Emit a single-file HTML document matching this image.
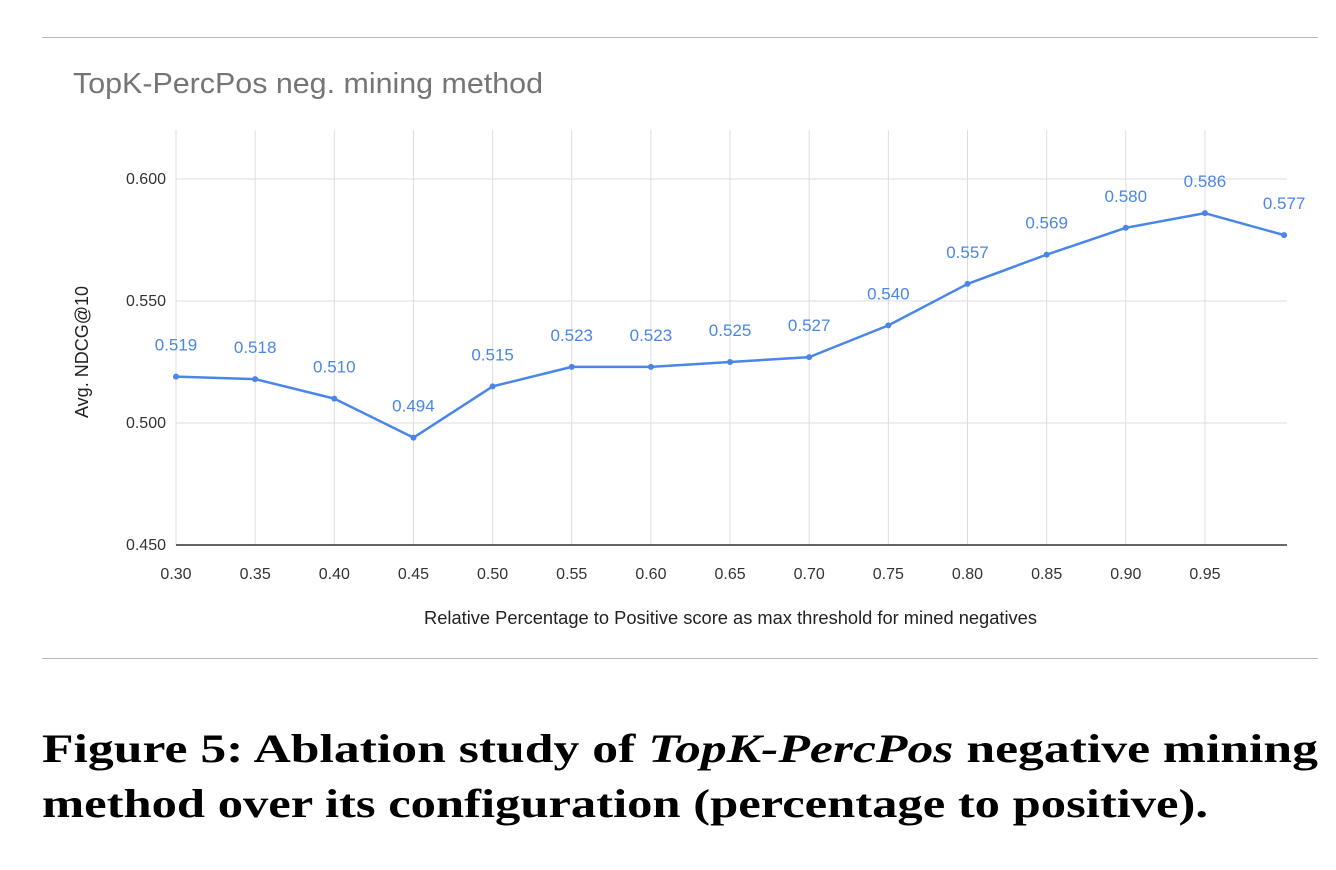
<!DOCTYPE html>
<html><head><meta charset="utf-8">
<style>
body{margin:0;background:#fff;width:1336px;height:870px;overflow:hidden;}
svg{position:absolute;left:0;top:0;}
</style></head><body>
<svg width="1336" height="870">
<line x1="42" y1="37.5" x2="1318" y2="37.5" stroke="#bbb" stroke-width="1"/>
<line x1="42" y1="658.5" x2="1318" y2="658.5" stroke="#bbb" stroke-width="1"/>
<text x="73" y="93" font-family="Liberation Sans, sans-serif" font-size="29" textLength="470" lengthAdjust="spacingAndGlyphs" fill="#757575">TopK-PercPos neg. mining method</text>
<g id="grid"></g>
<g id="marks"></g>
<text x="424" y="624" font-family="Liberation Sans, sans-serif" font-size="18" textLength="613" lengthAdjust="spacingAndGlyphs" fill="#222">Relative Percentage to Positive score as max threshold for mined negatives</text>
<text transform="translate(88,352) rotate(-90)" text-anchor="middle" font-family="Liberation Sans, sans-serif" font-size="18" fill="#222">Avg. NDCG@10</text>
<g font-family="Liberation Serif, serif" font-weight="bold" font-size="40" fill="#000">
<text x="42" y="762" textLength="1276" lengthAdjust="spacingAndGlyphs">Figure 5: Ablation study of <tspan font-style="italic">TopK-PercPos</tspan> negative mining</text>
<text x="42" y="817" textLength="1166" lengthAdjust="spacingAndGlyphs">method over its configuration (percentage to positive).</text>
</g>
</svg>
<script>
const xCats=[0.30,0.35,0.40,0.45,0.50,0.55,0.60,0.65,0.70,0.75,0.80,0.85,0.90,0.95,1.00];
const xTickLabels=["0.30","0.35","0.40","0.45","0.50","0.55","0.60","0.65","0.70","0.75","0.80","0.85","0.90","0.95"];
const values=[0.519,0.518,0.510,0.494,0.515,0.523,0.523,0.525,0.527,0.540,0.557,0.569,0.580,0.586,0.577];
const yTicks=[0.450,0.500,0.550,0.600];
const NS="http://www.w3.org/2000/svg";
function X(v){return 176+(v-0.30)/0.05*79.15;}
function Y(v){return 545-(v-0.45)/0.05*122;}
const gridG=document.getElementById('grid'),marksG=document.getElementById('marks');
function mk(tag,attrs,parent,txt){const e=document.createElementNS(NS,tag);for(const k in attrs)e.setAttribute(k,attrs[k]);if(txt!==undefined)e.textContent=txt;parent.appendChild(e);return e;}
const plotTop=Y(0.62);
xCats.forEach((c,i)=>{
  if(i===xCats.length-1)return;
  const l=mk('line',{x1:X(c),x2:X(c),y1:plotTop,y2:545,stroke:'#ddd','stroke-width':1},gridG);
  
  
});
xTickLabels.forEach((t,i)=>{
  const e=mk('text',{x:X(xCats[i]),y:579,'text-anchor':'middle','font-family':'Liberation Sans, sans-serif','font-size':16,fill:'#333'},gridG,t);
  
  
});
yTicks.forEach(v=>{
  const l=mk('line',{x1:176,x2:1287,y1:Y(v),y2:Y(v),stroke:v===0.45?'#333':'#ddd','stroke-width':v===0.45?1.5:1},gridG);
  
  
  const e=mk('text',{x:166,y:Y(v)+5,'text-anchor':'end','font-family':'Liberation Sans, sans-serif','font-size':16,fill:'#333'},gridG,v.toFixed(3));
  
  
});
const pts=values.map((v,i)=>X(xCats[i])+','+Y(v)).join(' ');
const pl=mk('polyline',{points:pts,fill:'none',stroke:'#4a86e8','stroke-width':2.5,'stroke-linejoin':'round'},marksG);


values.forEach((v,i)=>{
  const c=mk('circle',{cx:X(xCats[i]),cy:Y(v),r:3,fill:'#4a86e8'},marksG);
  
  
  const t=mk('text',{x:X(xCats[i]),y:Y(v)-26,'text-anchor':'middle','font-family':'Liberation Sans, sans-serif','font-size':17,fill:'#4a86e8'},marksG,v.toFixed(3));
  
  
});
</script>
</body></html>
